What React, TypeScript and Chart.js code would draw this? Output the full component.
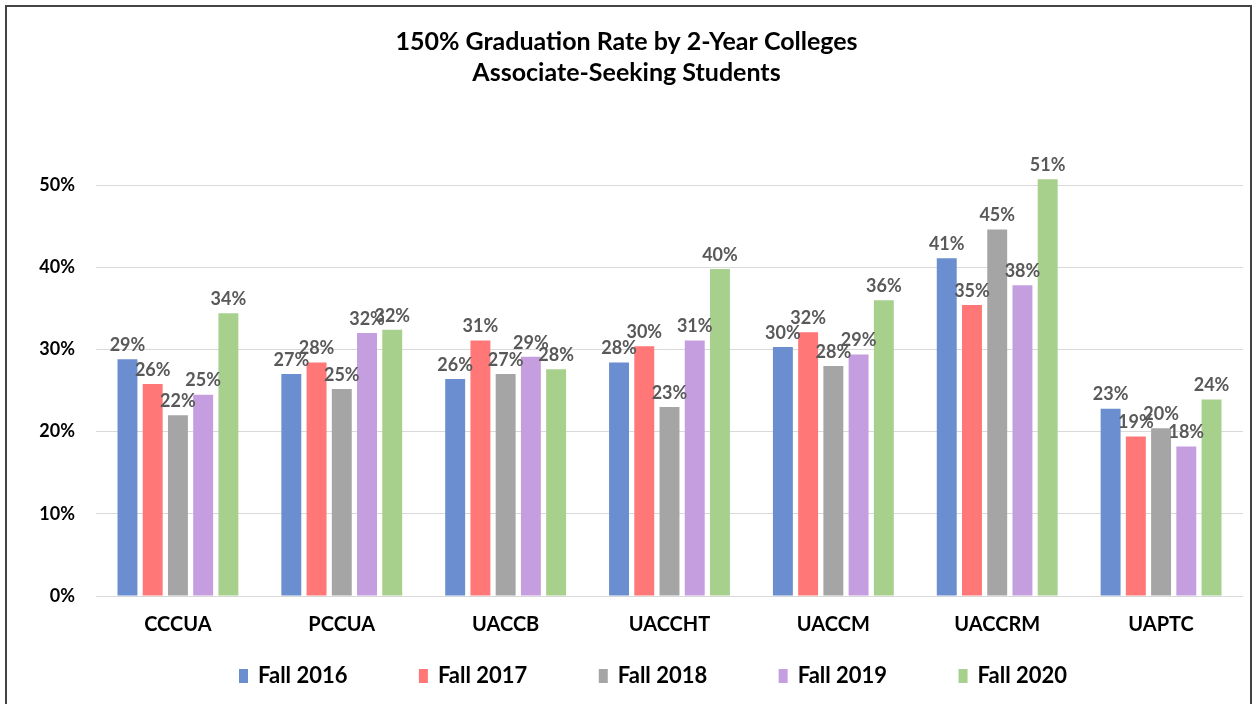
import React, { useEffect, useRef } from "react";
import { Chart, registerables } from "chart.js";

Chart.register(...registerables);

const categories = ["CCCUA", "PCCUA", "UACCB", "UACCHT", "UACCM", "UACCRM", "UAPTC"];
const seriesNames = ["Fall 2016", "Fall 2017", "Fall 2018", "Fall 2019", "Fall 2020"];
const fall2016 = [0.288, 0.27, 0.264, 0.284, 0.303, 0.411, 0.228];
const fall2017 = [0.258, 0.284, 0.311, 0.304, 0.321, 0.354, 0.194];
const fall2018 = [0.22, 0.252, 0.27, 0.23, 0.28, 0.446, 0.204];
const fall2019 = [0.245, 0.32, 0.291, 0.311, 0.294, 0.378, 0.182];
const fall2020 = [0.344, 0.324, 0.276, 0.398, 0.36, 0.507, 0.239];
const seriesColors = ["#6A8ECF", "#FF7777", "#A5A5A5", "#C59EE0", "#A8D08D"];
const titleLines = ["150% Graduation Rate by 2-Year Colleges", "Associate-Seeking Students"];

const FONT = "Lato, 'Open Sans', sans-serif";

const framePlugin = {
  id: "frame",
  beforeDraw(chart: any) {
    const ctx = chart.ctx;
    ctx.save();
    ctx.fillStyle = "#ffffff";
    ctx.fillRect(0, 0, chart.width, chart.height);
    ctx.strokeStyle = "#444444";
    ctx.lineWidth = 2;
    ctx.strokeRect(6, 6, chart.width - 12, chart.height + 20);
    ctx.restore();
  },
};

const valueLabelPlugin = {
  id: "valueLabels",
  afterDatasetsDraw(chart: any) {
    const ctx = chart.ctx;
    ctx.save();
    ctx.font = `bold 18px ${FONT}`;
    ctx.fillStyle = "#595959";
    ctx.textAlign = "center";
    ctx.textBaseline = "bottom";
    chart.data.datasets.forEach((ds: any, di: number) => {
      const meta = chart.getDatasetMeta(di);
      meta.data.forEach((bar: any, i: number) => {
        const v = ds.data[i];
        ctx.fillText(Math.round(v * 100) + "%", bar.x, bar.y - 5);
      });
    });
    ctx.restore();
  },
};

const legendPlugin = {
  id: "customLegend",
  afterDraw(chart: any) {
    const ctx = chart.ctx;
    ctx.save();
    ctx.font = `bold 22px ${FONT}`;
    ctx.textBaseline = "middle";
    ctx.textAlign = "left";
    const boxW = 9;
    const boxH = 14;
    const gapText = 10;
    const items = chart.data.datasets.map((ds: any) => ({
      label: ds.label,
      color: ds.backgroundColor,
      w: ctx.measureText(ds.label).width,
    }));
    const left = 239;
    const right = 1067;
    const used = items.reduce((s: number, it: any) => s + boxW + gapText + it.w, 0);
    const gapItem = (right - left - used) / (items.length - 1);
    const cy = 676;
    let x = left;
    items.forEach((it: any) => {
      ctx.fillStyle = it.color;
      ctx.fillRect(x, cy - boxH / 2, boxW, boxH);
      ctx.fillStyle = "#000000";
      ctx.fillText(it.label, x + boxW + gapText, cy);
      x += boxW + gapText + it.w + gapItem;
    });
    ctx.restore();
  },
};

export default function App() {
  const ref = useRef<HTMLCanvasElement | null>(null);

  useEffect(() => {
    if (!ref.current) return;
    const allSeries = [fall2016, fall2017, fall2018, fall2019, fall2020];
    const chart = new Chart(ref.current, {
      type: "bar",
      data: {
        labels: categories,
        datasets: allSeries.map((d, i) => ({
          label: seriesNames[i],
          data: d,
          backgroundColor: seriesColors[i],
          borderWidth: 0,
          categoryPercentage: 0.77,
          barPercentage: 0.79,
        })),
      },
      options: {
        responsive: false,
        animation: false,
        layout: { padding: { left: 10, right: 14, top: 10, bottom: 50 } },
        plugins: {
          legend: { display: false },
          tooltip: { enabled: false },
          title: {
            display: true,
            text: titleLines,
            color: "#000000",
            font: { family: FONT, size: 25, weight: "bold", lineHeight: 1.24 },
            padding: { top: 16, bottom: 56 },
          },
        },
        scales: {
          x: {
            grid: { display: false, drawTicks: false },
            border: { display: false },
            ticks: {
              color: "#000000",
              padding: 17,
              font: { family: FONT, size: 20, weight: "bold" },
            },
          },
          y: {
            min: 0,
            max: 0.55,
            afterBuildTicks: (axis: any) => {
              axis.ticks = axis.ticks.filter(
                (t: any) => Math.abs(t.value * 10 - Math.round(t.value * 10)) < 1e-6
              );
            },
            afterFit: (axis: any) => {
              axis.width = 86;
            },
            grid: { color: "#D9D9D9", lineWidth: 1, drawTicks: false },
            border: { display: false },
            ticks: {
              stepSize: 0.1,
              color: "#000000",
              padding: 21,
              font: { family: FONT, size: 18, weight: "bold" },
              callback: (v: any) => Math.round(Number(v) * 100) + "%",
            },
          },
        },
      },
      plugins: [framePlugin, valueLabelPlugin, legendPlugin],
    });
    return () => chart.destroy();
  }, []);

  return (
    <div style={{ position: "fixed", left: 0, top: 0, width: 1257, height: 704 }}>
      <canvas ref={ref} width={1257} height={704} style={{ display: "block" }} />
    </div>
  );
}
